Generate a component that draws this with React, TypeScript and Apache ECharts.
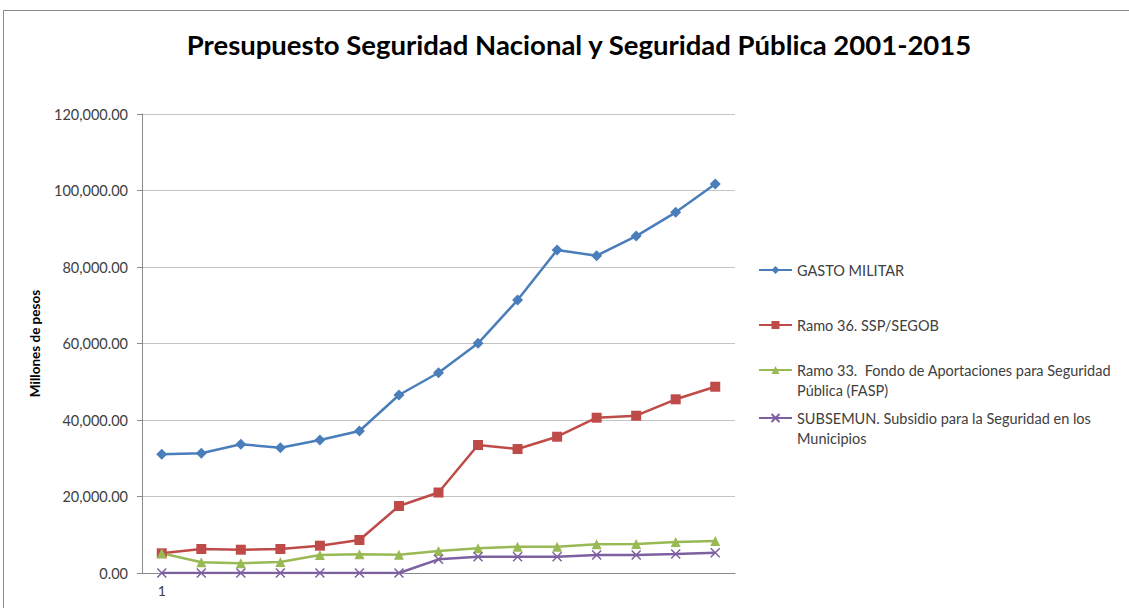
import React, { useEffect, useRef } from "react";
import * as echarts from "echarts";

const categories = ["1", "", "", "", "", "", "", "", "", "", "", "", "", "", ""];
const gastoMilitar = [31030, 31290, 33640, 32760, 34770, 37120, 46530, 52360, 60040, 71360, 84430, 82950, 88090, 94290, 101690];
const ramo36 = [5150, 6270, 6090, 6270, 7140, 8630, 17510, 21040, 33460, 32410, 35630, 40600, 41120, 45410, 48700];
const ramo33 = [5150, 2800, 2540, 2900, 4700, 4890, 4800, 5750, 6450, 6880, 6880, 7500, 7580, 8100, 8360];
const subsemun = [0, 0, 0, 0, 0, 0, 0, 3580, 4260, 4260, 4260, 4700, 4700, 4960, 5300];

const seriesNames = [
  "GASTO MILITAR",
  "Ramo 36. SSP/SEGOB",
  "Ramo 33.  Fondo de Aportaciones para Seguridad Pública (FASP)",
  "SUBSEMUN. Subsidio para la Seguridad en los Municipios",
];
const legendLines: Record<string, string> = {
  [seriesNames[2]]: " \nRamo 33.  Fondo de Aportaciones para Seguridad\nPública (FASP)",
  [seriesNames[3]]: " \nSUBSEMUN. Subsidio para la Seguridad en los\nMunicipios",
};
const yTicks = { min: 0, max: 120000, interval: 20000 };

const colors = ["#4A7EBB", "#BE4B48", "#98B954", "#7D60A0"];
const FONT = "Lato, 'Open Sans', sans-serif";

function fmt(v: number): string {
  const s = Math.round(v).toString().replace(/\B(?=(\d{3})+(?!\d))/g, ",");
  return s + ".00";
}

export default function App() {
  const ref = useRef<HTMLDivElement>(null);
  useEffect(() => {
    document.body.style.margin = "0";
    if (!ref.current) return;
    const chart = echarts.init(ref.current, undefined, { renderer: "svg" });
    const symbols = ["diamond", "rect", "triangle", "path://M0,0L10,10M10,0L0,10"];
    const symSizes = [11, 10, 10, 9];
    const datas = [gastoMilitar, ramo36, ramo33, subsemun];
    const legendTops = [255, 310, 335, 383];
    chart.setOption({
      animation: false,
      backgroundColor: "#ffffff",
      title: {
        text: "Presupuesto Seguridad Nacional y Seguridad Pública 2001-2015",
        left: 574,
        textAlign: "center",
        top: 25,
        textStyle: { fontFamily: FONT, fontSize: 27.5, fontWeight: "bold", color: "#000000" },
      },
      graphic: [
        {
          type: "rect",
          shape: { x: 3.5, y: 10.5, width: 1140, height: 610 },
          style: { fill: "none", stroke: "#8a8a8a", lineWidth: 1 },
          silent: true,
        },
      ],
      legend: seriesNames.map((n, i) => ({
        data: [n],
        orient: "vertical",
        left: 753,
        top: legendTops[i],
        itemWidth: 33,
        itemHeight: 10,
        selectedMode: false,
        formatter: (name: string) => legendLines[name] || name,
        textStyle: {
          fontFamily: FONT,
          fontSize: 14.5,
          color: "#404040",
          lineHeight: 20,
        },
      })),
      grid: { left: 142, right: 394, top: 114, bottom: 35, containLabel: false },
      xAxis: {
        type: "category",
        data: categories,
        boundaryGap: true,
        axisLine: { lineStyle: { color: "#8a8a8a", width: 1 } },
        axisTick: { show: false },
        axisLabel: { fontFamily: FONT, fontSize: 14, color: "#404040", margin: 10, interval: 0 },
        splitLine: { show: false },
      },
      yAxis: {
        type: "value",
        min: yTicks.min,
        max: yTicks.max,
        interval: yTicks.interval,
        name: "Millones de pesos",
        nameLocation: "middle",
        nameGap: 100,
        nameTextStyle: { fontFamily: FONT, fontSize: 13.5, fontWeight: "bold", color: "#000000" },
        axisLine: { show: true, lineStyle: { color: "#8a8a8a", width: 1 } },
        axisTick: { show: true, length: 5, lineStyle: { color: "#8a8a8a" } },
        axisLabel: {
          fontFamily: FONT,
          fontSize: 14.5,
          color: "#404040",
          margin: 14,
          formatter: (v: number) => fmt(v),
        },
        splitLine: { lineStyle: { color: "#c4c4c4", width: 1 } },
      },
      series: seriesNames.map((n, i) => ({
        name: n,
        type: "line",
        data: datas[i],
        symbol: symbols[i],
        symbolSize: symSizes[i],
        showSymbol: true,
        lineStyle: { color: colors[i], width: 2.5 },
        itemStyle: {
          color: colors[i],
          borderColor: colors[i],
          borderWidth: i === 3 ? 1.5 : 0,
        },
      })),
    });
    return () => chart.dispose();
  }, []);
  return <div ref={ref} style={{ width: 1129, height: 608 }} />;
}
